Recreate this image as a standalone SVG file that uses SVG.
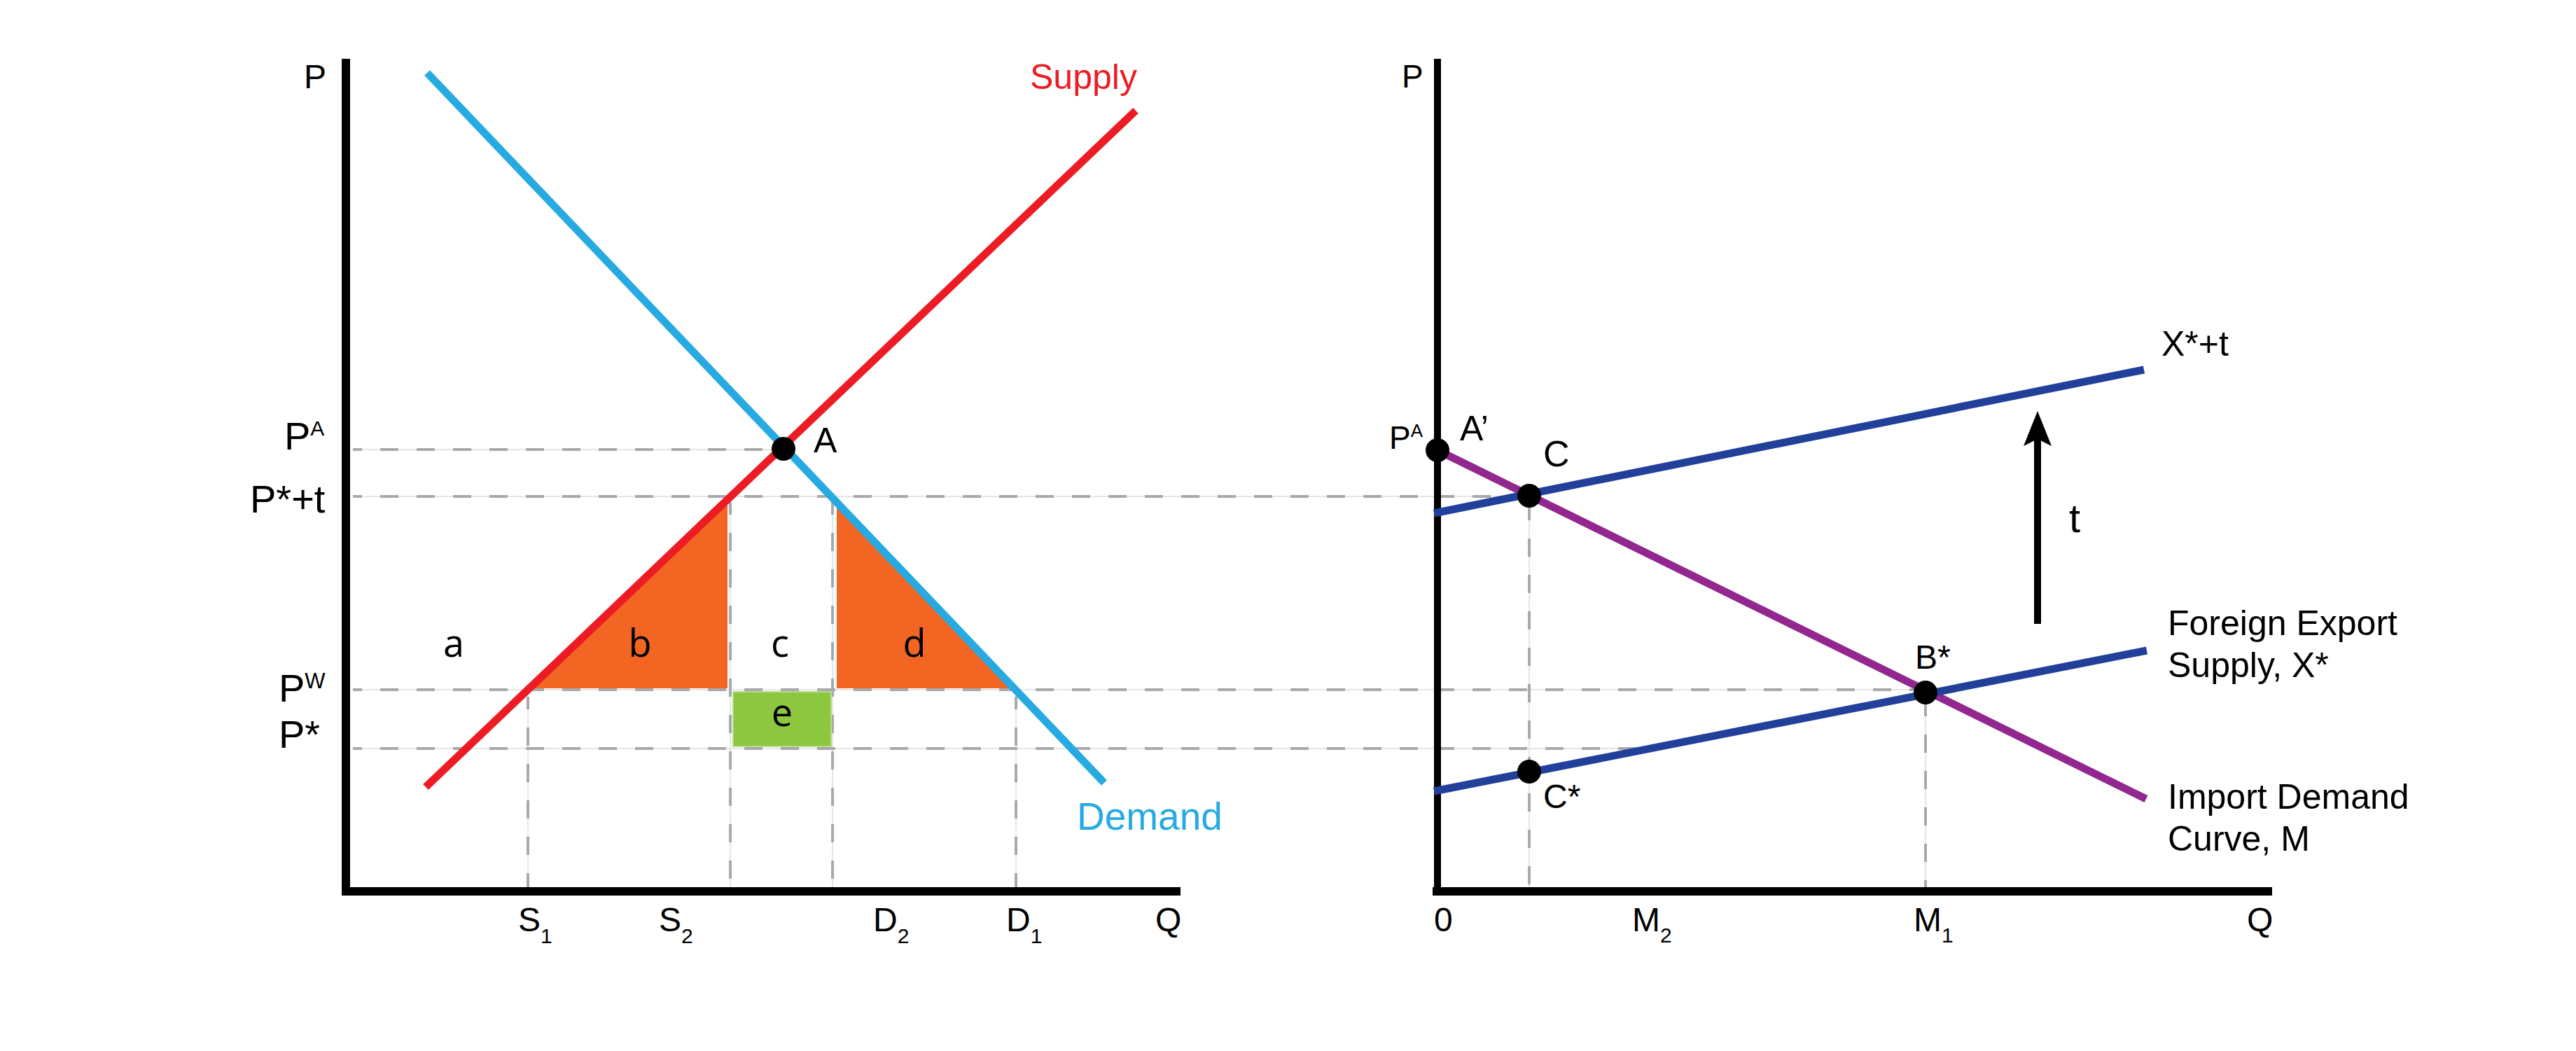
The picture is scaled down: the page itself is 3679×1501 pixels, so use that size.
<svg xmlns="http://www.w3.org/2000/svg" width="3679" height="1501" viewBox="0 0 3679 1501">
<defs>
<style>
.bg{fill:#ffffff}
.thin{stroke:#DCDDDE;stroke-width:1.5;fill:none}
.dash{stroke:#A7A9AC;stroke-width:4;stroke-dasharray:26 26;fill:none}
.axis{stroke:#000;fill:none;stroke-linecap:butt}
.curve{fill:none;stroke-width:11;stroke-linecap:butt}
.supply{stroke:#ED1C24}
.demand{stroke:#27AAE1}
.navy{stroke:#21409A}
.purple{stroke:#92278F}
.dot{fill:#000}
.lbl{font-family:"Liberation Sans",Arial,Helvetica,sans-serif;fill:#000}
.area{font-family:"Open Sans","Liberation Sans",sans-serif;font-size:54px;fill:#000;text-anchor:middle}
.orange{fill:#F26522}
.green{fill:#8DC63F;stroke:#B7DB8C;stroke-width:2}
</style>
<marker id="arrowhead" viewBox="0 0 50 40" markerWidth="50" markerHeight="40" markerUnits="userSpaceOnUse" refX="10" refY="20" orient="auto">
<path d="M0,0 L50,20 L0,40 L10,20 Z" fill="#000"/>
</marker>
</defs>
<rect class="bg" x="0" y="0" width="3679" height="1501"/>

<g id="guides">
<g class="thin">
<line x1="504" y1="642" x2="1119" y2="642"/>
<line x1="504" y1="709" x2="2184" y2="709"/>
<line x1="504" y1="985" x2="2750" y2="985"/>
<line x1="504" y1="1069" x2="2350" y2="1069"/>
<line x1="754" y1="985" x2="754" y2="1267"/>
<line x1="1043" y1="713" x2="1043" y2="1267"/>
<line x1="1189" y1="713" x2="1189" y2="1267"/>
<line x1="1451" y1="985" x2="1451" y2="1267"/>
<line x1="2184" y1="709" x2="2184" y2="1267"/>
<line x1="2750" y1="989" x2="2750" y2="1267"/>
</g>
<g class="dash" stroke-dashoffset="13">
<line x1="504" y1="642" x2="1105" y2="642"/>
<line x1="504" y1="709" x2="2175" y2="709"/>
<line x1="504" y1="985" x2="2740" y2="985"/>
<line x1="504" y1="1069" x2="2350" y2="1069"/>
</g>
<g class="dash" stroke-dashoffset="8">
<line x1="754" y1="995" x2="754" y2="1267"/>
<line x1="1043" y1="717" x2="1043" y2="1267"/>
<line x1="1189" y1="717" x2="1189" y2="1267"/>
<line x1="1451" y1="995" x2="1451" y2="1267"/>
<line x1="2184" y1="725" x2="2184" y2="1267"/>
<line x1="2750" y1="1005" x2="2750" y2="1267"/>
</g>
</g>

<g id="areas">
<polygon id="area-b" class="orange" points="756,983 1039,983 1039,713"/>
<polygon id="area-d" class="orange" points="1195,718 1195,983 1448,983"/>
<rect id="area-e" class="green" x="1047" y="988" width="140" height="78"/>
</g>

<g id="axes">
<g id="left-axes" class="axis">
<line x1="494" y1="84" x2="494" y2="1279" stroke-width="12"/>
<line x1="488" y1="1273" x2="1686" y2="1273" stroke-width="12"/>
</g>
<g id="right-axes" class="axis">
<line x1="2053" y1="84" x2="2053" y2="1279" stroke-width="10"/>
<line x1="2046" y1="1273" x2="3245" y2="1273" stroke-width="12"/>
</g>
</g>

<g id="connectors">
<line id="supply-curve" class="curve supply" x1="608" y1="1124" x2="1622" y2="158"/>
<line id="demand-curve" class="curve demand" x1="610" y1="104" x2="1577" y2="1118"/>
<line id="import-demand" class="curve purple" x1="2053" y1="643" x2="3065" y2="1141"/>
<line id="xt-curve" class="curve navy" x1="2048" y1="733" x2="3062" y2="528"/>
<line id="x-curve" class="curve navy" x1="2048" y1="1130" x2="3066" y2="929"/>
<line id="t-arrow" x1="2910" y1="891" x2="2910" y2="627" stroke="#000" stroke-width="10" marker-end="url(#arrowhead)"/>
</g>

<g id="point-A"><circle class="dot" cx="1119" cy="641" r="17"/><text class="lbl" x="1162" y="646" font-size="50">A</text></g>
<g id="point-Aprime"><circle class="dot" cx="2053" cy="643" r="17"/><text class="lbl" x="2085" y="629" font-size="50">A’</text></g>
<g id="point-C"><circle class="dot" cx="2184" cy="708" r="17"/><text class="lbl" x="2204" y="666" font-size="52">C</text></g>
<g id="point-Bstar"><circle class="dot" cx="2750" cy="989" r="17"/><text class="lbl" x="2735" y="955" font-size="48">B*</text></g>
<g id="point-Cstar"><circle class="dot" cx="2184" cy="1102" r="17"/><text class="lbl" x="2204" y="1154" font-size="48">C*</text></g>

<g id="left-labels">
<text class="lbl" x="434" y="126" font-size="48">P</text>
<text class="lbl" x="406" y="642" font-size="56">P<tspan font-size="30" dy="-20">A</tspan></text>
<text class="lbl" x="357" y="732" font-size="56">P*+t</text>
<text class="lbl" x="398" y="1002" font-size="56">P<tspan font-size="31" dy="-19">W</tspan></text>
<text class="lbl" x="398" y="1068" font-size="56">P*</text>
<text class="lbl" x="1471" y="127" font-size="50" style="fill:#ED1C24">Supply</text>
<text class="lbl" x="1538" y="1185" font-size="55" style="fill:#27AAE1">Demand</text>
<text class="lbl" x="740" y="1330" font-size="48">S<tspan font-size="30" dy="17">1</tspan></text>
<text class="lbl" x="941" y="1330" font-size="48">S<tspan font-size="30" dy="17">2</tspan></text>
<text class="lbl" x="1247" y="1330" font-size="48">D<tspan font-size="30" dy="17">2</tspan></text>
<text class="lbl" x="1437" y="1330" font-size="48">D<tspan font-size="30" dy="17">1</tspan></text>
<text class="lbl" x="1650" y="1330" font-size="48">Q</text>
<text class="area" x="648" y="938">a</text>
<text class="area" x="914" y="938">b</text>
<text class="area" x="1114" y="938">c</text>
<text class="area" x="1306" y="938">d</text>
<text class="area" x="1117" y="1037">e</text>
</g>

<g id="right-labels">
<text class="lbl" x="2002" y="125" font-size="46">P</text>
<text class="lbl" x="1984" y="641" font-size="46">P<tspan font-size="26" dy="-17">A</tspan></text>
<text class="lbl" x="3087" y="508" font-size="50">X*+t</text>
<text class="lbl" x="2955" y="760" font-size="58">t</text>
<text class="lbl" x="3096" y="907" font-size="50">Foreign Export</text>
<text class="lbl" x="3096" y="967" font-size="50">Supply, X*</text>
<text class="lbl" x="3096" y="1155" font-size="50">Import Demand</text>
<text class="lbl" x="3096" y="1215" font-size="50">Curve, M</text>
<text class="lbl" x="2048" y="1330" font-size="48">0</text>
<text class="lbl" x="2331" y="1330" font-size="48">M<tspan font-size="30" dy="16">2</tspan></text>
<text class="lbl" x="2733" y="1330" font-size="48">M<tspan font-size="30" dy="16">1</tspan></text>
<text class="lbl" x="3209" y="1330" font-size="48">Q</text>
</g>
</svg>
